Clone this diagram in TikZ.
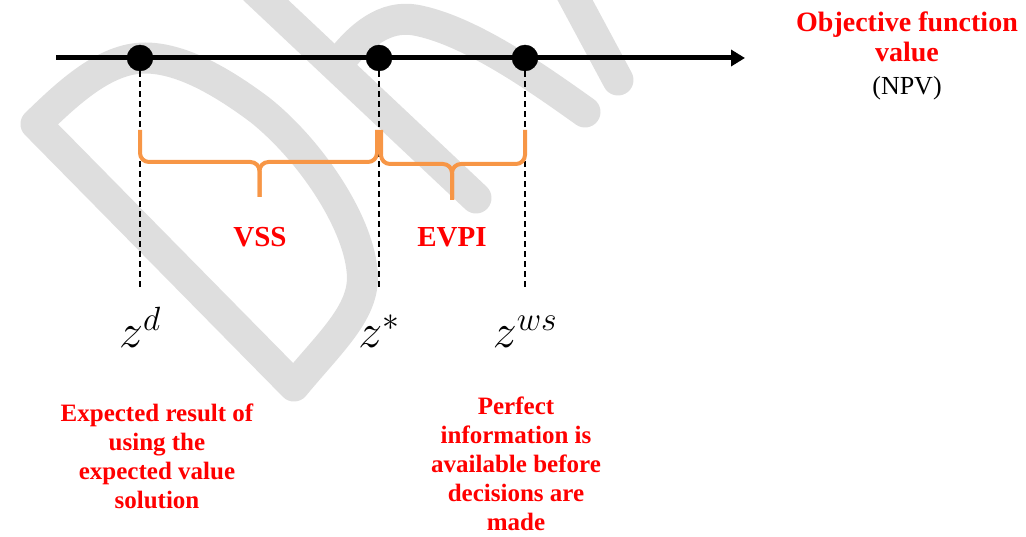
\RequirePackage{fix-cm}
\documentclass[tikz,border=0pt]{standalone}
\usepackage{amsmath}
\usepackage{fontspec}
\setmainfont{Liberation Serif}
\usepackage{tikz}
\usetikzlibrary{arrows.meta}

\definecolor{wmgray}{HTML}{DEDEDE}
\definecolor{braceorange}{HTML}{F79646}
\definecolor{labelred}{HTML}{FF0000}

\begin{document}
\begin{tikzpicture}[x=1pt, y=-1pt,
  dot/.style = {draw, fill, circle, inner sep=0pt, minimum size=26pt},
  guide/.style = {line width=1.5pt, dash pattern=on 6pt off 4pt},
  brc/.style = {braceorange, line width=4pt, rounded corners=9pt},
  wm/.style = {wmgray, line width=31pt, line join=round, line cap=round},
  tag/.style = {text=labelred, inner sep=0pt, font=\bfseries\fontsize{29}{32}\selectfont},
  note/.style = {text=labelred, inner sep=0pt, align=center, font=\bfseries\fontsize{25}{29}\selectfont},
  val/.style = {anchor=base, inner sep=0pt, font=\fontsize{48}{52}\selectfont}]

\useasboundingbox (0,0) rectangle (1026,537);

% watermark letters in the back
\draw[wm] (36,124) -- (294,386) .. controls (332,340) and (367,310) .. (362,270)
  .. controls (357,220) and (310,150) .. (260,110) .. controls (220,80) and (180,58) .. (145,58)
  .. controls (105,58) and (68,93) .. (36,124) -- cycle;
\draw[wm] (255,-10) -- (476,198);
\draw[wm] (338,64) .. controls (360,35) and (385,15) .. (415,20)
  .. controls (470,30) and (540,80) .. (585,112);
\draw[wm] (567,-15) -- (618,80);

% axis
\coordinate (start) at (56,58);
\coordinate (tip) at (745,58);
\draw[line width=5pt, -{Triangle[length=14pt, width=16pt]}] (start) -- (tip);

% points on the axis with their guides
\foreach \n/\x in {zd/140, zs/379, zw/525} {
  \node[dot] (\n) at (\x,58) {};
  \coordinate (\n-end) at (\x,290);
  \draw[guide] (\n) -- (\n-end);
}

% braces
\coordinate (vss-tip) at (259.5,197);
\coordinate (evpi-tip) at (452,200);
\draw[brc] (140,130) |- (259.5,162) -- (vss-tip);
\draw[brc] (377,130) |- (259.5,162) -- (vss-tip);
\draw[brc] (381,130) |- (452,164) -- (evpi-tip);
\draw[brc] (525,130) |- (452,164) -- (evpi-tip);

\node[tag] (vss) at (260,237) {VSS};
\node[tag] (evpi) at (452,237) {EVPI};

% values
\node[val] (lzd) at (140,348) {$z^d$};
\node[val] (lzs) at (379,348) {$z^*$};
\node[val] (lzw) at (525,348) {$z^{ws}$};

% axis title
\node[text=labelred, align=center, inner sep=0pt, font=\bfseries\fontsize{28}{30}\selectfont] (obj) at (907,37) {Objective function\\value};
\node[inner sep=0pt, font=\fontsize{26}{28}\selectfont] (npv) at (907,88) {(NPV)};

% notes
\node[note] (evs) at (157,456) {Expected result of\\using the\\expected value\\solution};
\node[note] (pi) at (516,464) {Perfect\\information is\\available before\\decisions are\\made};
\end{tikzpicture}
\end{document}
